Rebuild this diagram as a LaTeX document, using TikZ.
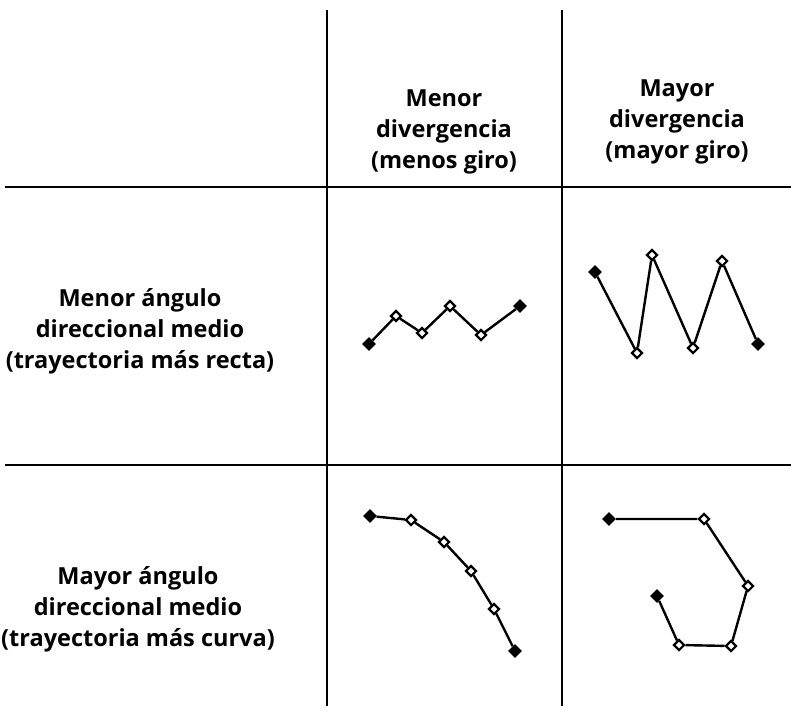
\documentclass[tikz,border=0pt]{standalone}
\usepackage{fontspec}
\setmainfont{Open Sans}
\usetikzlibrary{shapes.geometric}
\begin{document}
\begin{tikzpicture}[x=1pt,y=-1pt,
  grid/.style={line width=2.4pt},
  trk/.style={line width=2.4pt},
  fpt/.style={diamond,fill=black,inner sep=0pt,minimum width=14pt,minimum height=14pt},
  opt/.style={diamond,draw=black,fill=white,line width=2.2pt,inner sep=0pt,minimum width=11pt,minimum height=11pt},
  lbl/.style={align=center,font=\bfseries\fontsize{23.5}{31}\selectfont}]
\useasboundingbox (0,0) rectangle (791,714);
% grid
\coordinate (v1t) at (327,10); \coordinate (v1b) at (327,706);
\coordinate (v2t) at (562,10); \coordinate (v2b) at (562,706);
\coordinate (h1l) at (5,187); \coordinate (h1r) at (791,187);
\coordinate (h2l) at (5,465); \coordinate (h2r) at (791,465);
\draw[grid] (v1t) -- (v1b);
\draw[grid] (v2t) -- (v2b);
\draw[grid] (h1l) -- (h1r);
\draw[grid] (h2l) -- (h2r);
% labels
\node[lbl] (c1) at (444,132) {Menor\\divergencia\\(menos giro)};
\node[lbl] (c2) at (677,122) {Mayor\\divergencia\\(mayor giro)};
\node[lbl] (r1) at (140,331) {Menor ángulo\\direccional medio\\(trayectoria más recta)};
\node[lbl] (r2) at (138,609) {Mayor ángulo\\direccional medio\\(trayectoria más curva)};
% cell 1
\node[fpt] (a1) at (369,344) {};
\node[opt] (a2) at (396,316) {};
\node[opt] (a3) at (422,333) {};
\node[opt] (a4) at (450,306) {};
\node[opt] (a5) at (481,335) {};
\node[fpt] (a6) at (520,306) {};
\draw[trk] (a1) -- (a2) -- (a3) -- (a4) -- (a5) -- (a6);
% cell 2
\node[fpt] (b1) at (595,272) {};
\node[opt] (b2) at (637,353) {};
\node[opt] (b3) at (652,255) {};
\node[opt] (b4) at (693,348) {};
\node[opt] (b5) at (722,261) {};
\node[fpt] (b6) at (758,344) {};
\draw[trk] (b1) -- (b2) -- (b3) -- (b4) -- (b5) -- (b6);
% cell 3
\node[fpt] (d1) at (370,516) {};
\node[opt] (d2) at (411,520) {};
\node[opt] (d3) at (444,542) {};
\node[opt] (d4) at (471,571) {};
\node[opt] (d5) at (494,609) {};
\node[fpt] (d6) at (515,651) {};
\draw[trk] (d1) -- (d2) -- (d3) -- (d4) -- (d5) -- (d6);
% cell 4
\node[fpt] (e1) at (609,519) {};
\node[opt] (e2) at (704,519) {};
\node[opt] (e3) at (748,586) {};
\node[opt] (e4) at (731,646) {};
\node[opt] (e5) at (679,645) {};
\node[fpt] (e6) at (657,596) {};
\draw[trk] (e1) -- (e2) -- (e3) -- (e4) -- (e5) -- (e6);
\end{tikzpicture}
\end{document}
